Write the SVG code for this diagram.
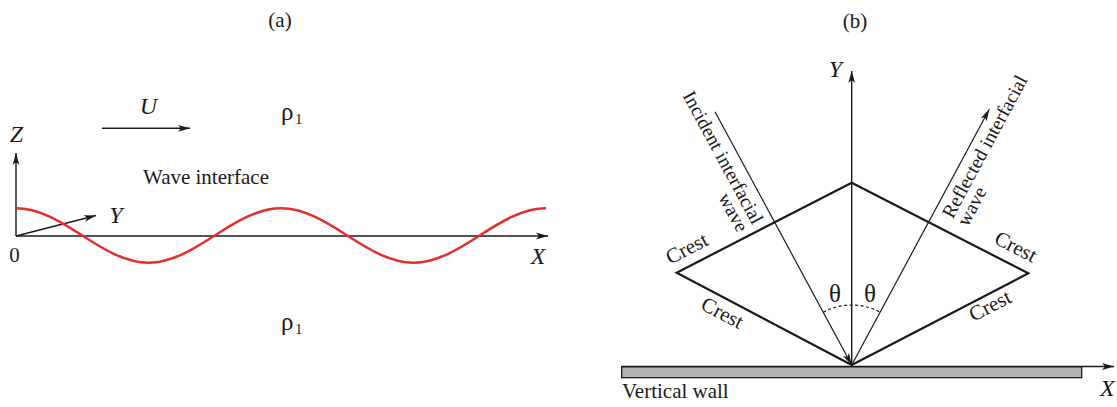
<svg xmlns="http://www.w3.org/2000/svg" width="1117" height="407" viewBox="0 0 1117 407">
<defs>
<style>
text{font-family:"Liberation Serif","Times New Roman",serif;fill:#1a1a1a}
.lbl{font-size:21px}
.it{font-size:24px;font-style:italic}
.sym{font-size:25px}
.ax{stroke:#1a1a1a;stroke-width:1.4;fill:none}
.thin{stroke:#1a1a1a;stroke-width:1.2;fill:none}
.edge{stroke:#1a1a1a;stroke-width:2.2;fill:none;stroke-linejoin:miter}
.wave{stroke:#e3302b;stroke-width:2.6;fill:none}
.rot{font-size:19.5px}
</style>
<marker id="arr" markerUnits="userSpaceOnUse" viewBox="0 0 12 8" refX="12" refY="4" markerWidth="12" markerHeight="8" orient="auto">
<path d="M0,0.6 L12,4 L0,7.4 L3,4 z" fill="#1a1a1a"/>
</marker>
</defs>
<rect width="1117" height="407" fill="#ffffff"/>

<g id="panel-a">
<text id="label-a" class="lbl" x="280" y="27" text-anchor="middle" font-size="22">(a)</text>
<g id="connectors-a">
<line class="ax" x1="16" y1="236" x2="16" y2="153" marker-end="url(#arr)"/>
<line class="ax" x1="16" y1="236" x2="548" y2="236" marker-end="url(#arr)"/>
<line class="ax" x1="16" y1="236" x2="96" y2="215.5" marker-end="url(#arr)"/>
<line class="ax" x1="102" y1="128.3" x2="190" y2="128.3" marker-end="url(#arr)"/>
</g>
<path id="wave-interface" class="wave" d="M16,208.3 C39.050,208.3 60.64,221.57 82.25,235.5 C103.86,249.43 125.45,262.7 148.5,262.7 C171.55,262.7 193.14,249.43 214.75,235.5 C236.36,221.57 257.95,208.3 281,208.3 C304.05,208.3 325.64,221.57 347.25,235.5 C368.86,249.43 390.45,262.7 413.5,262.7 C436.55,262.7 458.14,249.43 479.75,235.5 C501.36,221.57 522.95,208.3 546,208.3"/>
<text class="it" x="16.5" y="142" text-anchor="middle">Z</text>
<text class="it" x="148.5" y="114" text-anchor="middle">U</text>
<text class="it" x="116" y="223" text-anchor="middle">Y</text>
<text class="it" x="538" y="264" text-anchor="middle">X</text>
<text class="lbl" x="14.5" y="262" text-anchor="middle" font-size="22">0</text>
<text class="lbl" x="143" y="184">Wave interface</text>
<text class="sym" x="281" y="119.5">ρ<tspan x="295" y="124" font-size="15">1</tspan></text>
<text class="sym" x="281" y="329.5">ρ<tspan x="295" y="334" font-size="15">1</tspan></text>
</g>

<g id="panel-b">
<text id="label-b" class="lbl" x="855" y="28" text-anchor="middle" font-size="22">(b)</text>
<rect id="wall" x="621.7" y="366.7" width="460" height="11" fill="#b5b5b5" stroke="#1a1a1a" stroke-width="1.3"/>
<polygon id="crests" class="edge" points="676.7,272.7 851.7,182.7 1028.3,273.3 851.7,365"/>
<g id="connectors-b">
<line class="ax" x1="621.7" y1="366.5" x2="1114" y2="366.5" marker-end="url(#arr)"/>
<line class="ax" x1="851.7" y1="365" x2="851.7" y2="71" marker-end="url(#arr)"/>
<line class="thin" x1="715" y1="111.7" x2="851.7" y2="365" marker-end="url(#arr)"/>
<line class="thin" x1="851.7" y1="365" x2="989.3" y2="109.3" marker-end="url(#arr)"/>
<path class="thin" d="M823.2,312.2 A60,60 0 0 1 880.2,312.2" stroke-dasharray="3,2.5"/>
</g>
<text class="it" x="835.5" y="77" text-anchor="middle">Y</text>
<text class="it" x="1100" y="396">X</text>
<text class="lbl" x="622" y="398">Vertical wall</text>
<text class="sym" x="835" y="301.5" text-anchor="middle">θ</text>
<text class="sym" x="870" y="301.5" text-anchor="middle">θ</text>
<g id="incident-label">
<text class="rot" text-anchor="end" transform="translate(752.5,225.4) rotate(61.6)">Incident interfacial</text>
<text class="rot" text-anchor="end" transform="translate(737.5,233.5) rotate(61.6)">wave</text>
</g>
<g id="reflected-label">
<text class="rot" transform="translate(952.7,219.4) rotate(-61.7)">Reflected interfacial</text>
<text class="rot" transform="translate(967.7,227.4) rotate(-61.7)">wave</text>
</g>
<g id="crest-labels">
<text class="lbl" font-size="20" transform="translate(670.3,264.7) rotate(-27.2)">Crest</text>
<text class="lbl" font-size="20" transform="translate(992.9,242.7) rotate(27.2)">Crest</text>
<text class="lbl" font-size="20" transform="translate(699.6,308.6) rotate(27.8)">Crest</text>
<text class="lbl" font-size="20" transform="translate(973.5,322) rotate(-27.4)">Crest</text>
</g>
</g>
</svg>
